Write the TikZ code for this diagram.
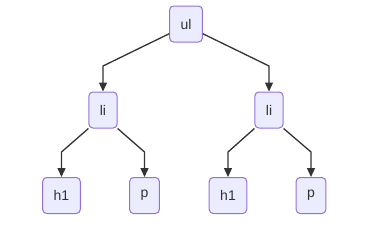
\documentclass[tikz,border=0pt]{standalone}
\usepackage{fontspec}
\setmainfont{Liberation Sans}
\usetikzlibrary{arrows.meta}
\definecolor{boxfill}{HTML}{ECECFF}
\definecolor{boxline}{HTML}{9370DB}
\definecolor{ink}{HTML}{333333}

\begin{document}
\begin{tikzpicture}[x=1pt, y=-1pt,
    tag/.style={draw=boxline, fill=boxfill, line width=1pt, rounded corners=4pt,
        minimum height=36pt, inner xsep=11pt, text=ink,
        font=\fontsize{14}{16}\selectfont},
    edge/.style={draw=ink, line width=1.3pt, -{Triangle[length=9pt, width=8pt]}}]
                \useasboundingbox (0,0) rectangle (374,228);
                \node[tag] (ul) at (186,24) {ul};
                \node[tag] (liL) at (103,110) {li};
                \node[tag] (liR) at (269,110) {li};
                \node[tag] (h1L) at (61.5,195.5) {h1};
                \node[tag] (pL) at (144.5,195.5) {p};
                \node[tag] (h1R) at (228,195.5) {h1};
                \node[tag] (pR) at (311,195.5) {p};
                \draw[edge] (ul.210) -- (liL |- 0,66) -- (liL);
                \draw[edge] (ul.-30) -- (liR |- 0,66) -- (liR);
                \draw[edge] (liL.south west) -- (h1L |- 0,152) -- (h1L);
                \draw[edge] (liL.south east) -- (pL |- 0,152) -- (pL);
                \draw[edge] (liR.south west) -- (h1R |- 0,152) -- (h1R);
                \draw[edge] (liR.south east) -- (pR |- 0,152) -- (pR);
            \end{tikzpicture}
\end{document}
